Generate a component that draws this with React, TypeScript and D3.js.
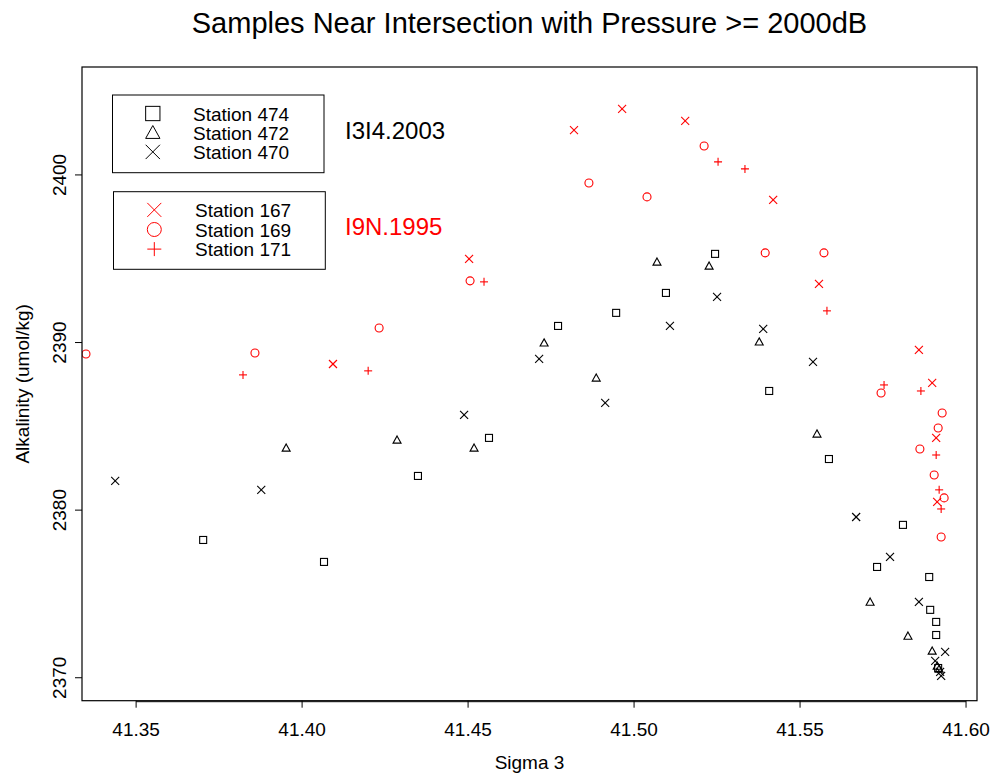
import React from "react";
import * as d3 from "d3";

const titleText = "Samples Near Intersection with Pressure >= 2000dB";
const xLabel = "Sigma 3";
const yLabel = "Alkalinity (umol/kg)";

const xTicks = [41.35, 41.4, 41.45, 41.5, 41.55, 41.6];
const yTicks = [2370, 2380, 2390, 2400];

// I3I4.2003 — Station 474 (squares)
const st474Sigma = [41.3702, 41.4066, 41.4349, 41.4563, 41.4771, 41.4946, 41.5096, 41.5244, 41.5407, 41.5587, 41.581, 41.5732, 41.5889, 41.5892, 41.591, 41.591, 41.5916];
const st474Alk = [2378.22, 2376.91, 2382.04, 2384.31, 2390.99, 2391.77, 2392.96, 2395.29, 2387.11, 2383.05, 2379.12, 2376.61, 2376.01, 2374.05, 2373.33, 2372.55, 2370.58];

// Station 472 (triangles)
const st472Sigma = [41.3952, 41.4286, 41.4518, 41.4729, 41.4886, 41.5069, 41.5226, 41.5377, 41.5551, 41.5711, 41.5825, 41.5898, 41.5913, 41.5919];
const st472Alk = [2383.71, 2384.19, 2383.71, 2389.98, 2387.89, 2394.81, 2394.57, 2390.04, 2384.55, 2374.52, 2372.49, 2371.6, 2370.7, 2370.52];

// Station 470 (x)
const st470Sigma = [41.3437, 41.3877, 41.4488, 41.4714, 41.4913, 41.5108, 41.525, 41.5389, 41.5539, 41.5669, 41.5771, 41.5858, 41.5937, 41.5907, 41.5922, 41.5925];
const st470Alk = [2381.74, 2381.21, 2385.68, 2389.02, 2386.4, 2390.99, 2392.72, 2390.81, 2388.84, 2379.59, 2377.21, 2374.52, 2371.54, 2371.0, 2370.35, 2370.11];

// I9N.1995 — Station 167 (red x)
const st167Sigma = [41.4093, 41.4503, 41.4819, 41.4964, 41.5154, 41.5419, 41.5557, 41.5858, 41.5898, 41.591, 41.5913];
const st167Alk = [2388.72, 2394.99, 2402.68, 2403.94, 2403.22, 2398.51, 2393.5, 2389.56, 2387.59, 2384.31, 2380.49];

// Station 169 (red circles)
const st169Sigma = [41.3349, 41.3858, 41.4232, 41.4506, 41.4864, 41.5039, 41.5211, 41.5395, 41.5572, 41.5744, 41.5861, 41.5928, 41.5916, 41.5904, 41.5934, 41.5925];
const st169Alk = [2389.32, 2389.38, 2390.87, 2393.68, 2399.52, 2398.69, 2401.73, 2395.35, 2395.35, 2386.99, 2383.65, 2385.8, 2384.9, 2382.1, 2380.73, 2378.4];

// Station 171 (red plus)
const st171Sigma = [41.3822, 41.4199, 41.4548, 41.5253, 41.5334, 41.5581, 41.5753, 41.5864, 41.591, 41.5919, 41.5925];
const st171Alk = [2388.07, 2388.31, 2393.62, 2400.78, 2400.36, 2391.89, 2387.47, 2387.11, 2383.29, 2381.21, 2380.07];

const legend1 = ["Station 474", "Station 472", "Station 470"];
const legend2 = ["Station 167", "Station 169", "Station 171"];
const cruise1 = "I3I4.2003";
const cruise2 = "I9N.1995";

const RED = "#ff0000";
const FONT = "'Liberation Sans', Arial, Helvetica, sans-serif";

type Shape = "square" | "triangle" | "x" | "circle" | "plus";

function Sym({ shape, cx, cy, s, color, sw = 1 }: { shape: Shape; cx: number; cy: number; s: number; color: string; sw?: number }) {
  const h = s / 2;
  const common = { fill: "none", stroke: color, strokeWidth: sw };
  if (shape === "square") return <rect x={cx - h} y={cy - h} width={s} height={s} {...common} />;
  if (shape === "circle") return <circle cx={cx} cy={cy} r={h} {...common} />;
  if (shape === "triangle") {
    const p = d3.path();
    p.moveTo(cx, cy - h);
    p.lineTo(cx + h, cy + h * 0.8);
    p.lineTo(cx - h, cy + h * 0.8);
    p.closePath();
    return <path d={p.toString()} {...common} />;
  }
  if (shape === "x") {
    return (
      <g {...common}>
        <line x1={cx - h} y1={cy - h} x2={cx + h} y2={cy + h} />
        <line x1={cx - h} y1={cy + h} x2={cx + h} y2={cy - h} />
      </g>
    );
  }
  return (
    <g {...common}>
      <line x1={cx - h} y1={cy} x2={cx + h} y2={cy} />
      <line x1={cx} y1={cy - h} x2={cx} y2={cy + h} />
    </g>
  );
}

export default function App() {
  const W = 991, H = 776;
  const left = 82, right = 977, top = 67, bottom = 700.7;
  const x = d3.scaleLinear().domain([41.3337, 41.6033]).range([left, right]);
  const y = d3.scaleLinear().domain([2368.63, 2406.44]).range([bottom, top]);

  const series: { xs: number[]; ys: number[]; shape: Shape; color: string; size: number }[] = [
    { xs: st474Sigma, ys: st474Alk, shape: "square", color: "#000", size: 7 },
    { xs: st472Sigma, ys: st472Alk, shape: "triangle", color: "#000", size: 8 },
    { xs: st470Sigma, ys: st470Alk, shape: "x", color: "#000", size: 8 },
    { xs: st167Sigma, ys: st167Alk, shape: "x", color: RED, size: 8 },
    { xs: st169Sigma, ys: st169Alk, shape: "circle", color: RED, size: 8 },
    { xs: st171Sigma, ys: st171Alk, shape: "plus", color: RED, size: 8 },
  ];

  const shapes1: Shape[] = ["square", "triangle", "x"];
  const shapes2: Shape[] = ["x", "circle", "plus"];

  return (
    <div style={{ position: "absolute", left: 0, top: 0, width: W, height: H, background: "#fff" }}>
      <svg width={W} height={H} style={{ display: "block", fontFamily: FONT }}>
        <rect x={0} y={0} width={W} height={H} fill="#fff" />
        <text x={(left + right) / 2} y={33} fontSize={29} textAnchor="middle" fill="#000">{titleText}</text>

        <defs>
          <clipPath id="plotclip">
            <rect x={left} y={top} width={right - left} height={bottom - top} />
          </clipPath>
        </defs>

        {/* points */}
        <g clipPath="url(#plotclip)">
          {series.map((s, si) =>
            s.xs.map((v, i) => (
              <Sym key={`${si}-${i}`} shape={s.shape} cx={x(v)} cy={y(s.ys[i])} s={s.size} color={s.color} sw={1.1} />
            ))
          )}
        </g>

        {/* box */}
        <rect x={left} y={top} width={right - left} height={bottom - top} fill="none" stroke="#000" strokeWidth={1.2} />

        {/* x axis */}
        <line x1={x(xTicks[0])} x2={x(xTicks[xTicks.length - 1])} y1={bottom + 1} y2={bottom + 1} stroke="#000" strokeWidth={1} />
        {xTicks.map((t) => (
          <g key={t}>
            <line x1={x(t)} x2={x(t)} y1={bottom} y2={bottom + 7} stroke="#000" strokeWidth={1} />
            <text x={x(t)} y={736} fontSize={19} textAnchor="middle" fill="#000">{t.toFixed(2)}</text>
          </g>
        ))}
        <text x={(left + right) / 2} y={769} fontSize={19} textAnchor="middle" fill="#000">{xLabel}</text>

        {/* y axis */}
        {yTicks.map((t) => (
          <g key={t}>
            <line x1={left - 7} x2={left} y1={y(t)} y2={y(t)} stroke="#000" strokeWidth={1} />
            <text transform={`translate(66,${y(t)}) rotate(-90)`} fontSize={19} textAnchor="middle" fill="#000">{t}</text>
          </g>
        ))}
        <text transform={`translate(29,${(top + bottom) / 2}) rotate(-90)`} fontSize={19} textAnchor="middle" fill="#000">{yLabel}</text>

        {/* legends */}
        <rect x={112.5} y={95} width={211.5} height={77.7} fill="#fff" stroke="#000" strokeWidth={1} />
        {legend1.map((lab, i) => (
          <g key={lab}>
            <Sym shape={shapes1[i]} cx={152.8} cy={113.5 + i * 19.2} s={14.3} color="#000" />
            <text x={193} y={113.5 + i * 19.2 + 7} fontSize={19} fill="#000">{lab}</text>
          </g>
        ))}
        <rect x={113.5} y={191.7} width={211.8} height={77.6} fill="#fff" stroke="#000" strokeWidth={1} />
        {legend2.map((lab, i) => (
          <g key={lab}>
            <Sym shape={shapes2[i]} cx={154.3} cy={209.9 + i * 19.6} s={14} color={RED} />
            <text x={195} y={209.9 + i * 19.6 + 7} fontSize={19} fill="#000">{lab}</text>
          </g>
        ))}

        <text x={345} y={139} fontSize={24} fill="#000">{cruise1}</text>
        <text x={345} y={235} fontSize={24} fill={RED}>{cruise2}</text>
      </svg>
    </div>
  );
}
